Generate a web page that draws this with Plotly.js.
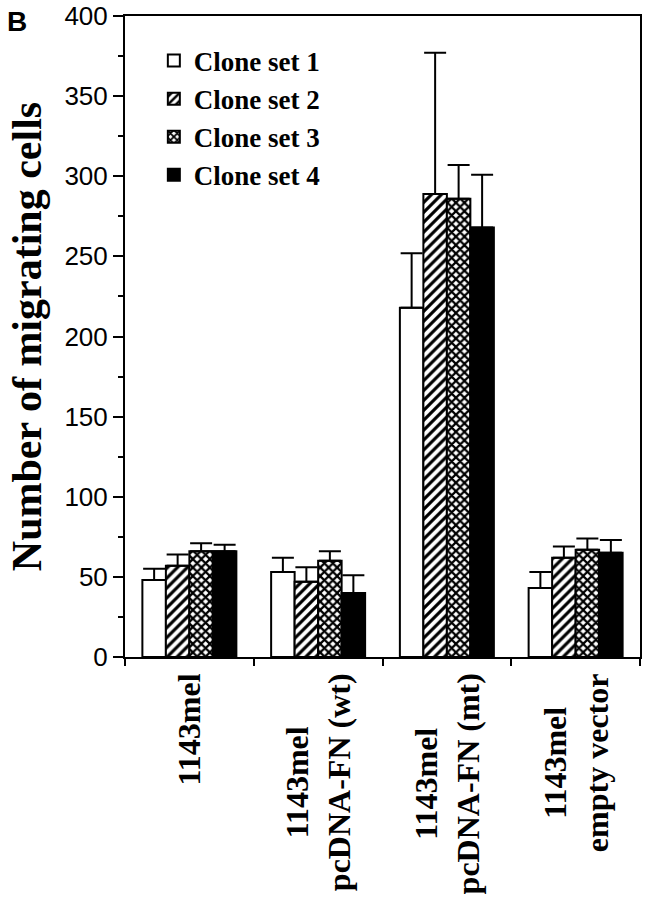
<!DOCTYPE html>
<html>
<head>
<meta charset="utf-8">
<script src="https://cdn.plot.ly/plotly-3.0.1.min.js"></script>
<style>
html,body{margin:0;padding:0;background:#fff;}
#chart{width:648px;height:899px;}
</style>
</head>
<body>
<div id="chart"></div>
<script>
const categories = ['1143mel', '1143mel pcDNA-FN (wt)', '1143mel pcDNA-FN (mt)', '1143mel empty vector'];
const tickLabels = ['1143mel', '1143mel<br>pcDNA-FN (wt)', '1143mel<br>pcDNA-FN (mt)', '1143mel<br>empty vector'];
const seriesNames = ['Clone set 1', 'Clone set 2', 'Clone set 3', 'Clone set 4'];
const set1 = [48, 53, 218, 43];
const set2 = [57, 47, 289, 62];
const set3 = [66, 60, 286, 67];
const set4 = [66, 40, 268, 65];
const err1 = [7, 9, 34, 10];
const err2 = [7, 9, 88, 7];
const err3 = [5, 6, 21, 7];
const err4 = [4, 11, 33, 8];
const yTicks = [0, 50, 100, 150, 200, 250, 300, 350, 400];

const serif = 'Liberation Serif, Times New Roman, serif';
const sans = 'Liberation Sans, Arial, sans-serif';

const values = [set1, set2, set3, set4];
const errors = [err1, err2, err3, err4];
const patterns = [
  {shape: ''},
  {shape: '/', fgcolor: '#000', bgcolor: '#fff', size: 7, solidity: 0.45},
  {shape: 'x', fgcolor: '#000', bgcolor: '#fff', size: 6, solidity: 0.6},
  {shape: ''}
];
const fills = ['#fff', '#fff', '#fff', '#000'];

const traces = values.map((v, i) => ({
  type: 'bar',
  name: seriesNames[i],
  x: categories,
  y: v,
  marker: {
    color: fills[i],
    line: {color: '#000', width: 2},
    pattern: patterns[i]
  },
  error_y: {
    type: 'data',
    symmetric: false,
    array: errors[i],
    arrayminus: errors[i].map(() => 0),
    color: '#000',
    thickness: 2,
    width: 11
  }
}));

const annotations = categories.map((c, i) => ({
  x: c, xref: 'x',
  y: 0, yref: 'paper',
  yanchor: 'top', xanchor: 'center',
  yshift: -14,
  text: tickLabels[i],
  textangle: -90,
  align: 'center',
  showarrow: false,
  font: {family: serif, size: 32, color: '#000', weight: 700}
}));
annotations.push({
  x: -0.233, xref: 'paper', y: 1.018, yref: 'paper',
  xanchor: 'left', yanchor: 'top',
  text: 'B', showarrow: false,
  font: {family: sans, size: 28, color: '#000', weight: 700}
});

const layout = {
  width: 648, height: 899,
  margin: {l: 125, r: 8, t: 16, b: 242},
  paper_bgcolor: '#fff', plot_bgcolor: '#fff',
  barmode: 'group', bargap: 0.27, bargroupgap: 0,
  showlegend: true,
  legend: {
    x: 0.056, y: 0.968, xanchor: 'left', yanchor: 'top',
    bgcolor: 'rgba(0,0,0,0)',
    font: {family: serif, size: 27, color: '#000', weight: 700},
    tracegroupgap: 0
  },
  xaxis: {
    type: 'category',
    showticklabels: false,
    ticks: 'outside', tickson: 'boundaries', ticklen: 7, tickwidth: 2, tickcolor: '#000',
    showline: true, linecolor: '#000', linewidth: 2, mirror: true,
    showgrid: false, zeroline: false
  },
  yaxis: {
    range: [0, 400],
    tickvals: yTicks,
    ticktext: yTicks.map(String),
    ticklabeloverflow: 'allow',
    ticks: 'outside', ticklen: 10, tickwidth: 2, tickcolor: '#000',
    minor: {dtick: 25, ticks: 'outside', ticklen: 5, tickwidth: 2, tickcolor: '#000', showgrid: false},
    tickfont: {family: sans, size: 26, color: '#000'},
    showline: true, linecolor: '#000', linewidth: 2, mirror: true,
    showgrid: false, zeroline: false,
    title: {text: 'Number of migrating cells', standoff: 10,
            font: {family: serif, size: 42, color: '#000', weight: 700}}
  },
  annotations: annotations
};

Plotly.newPlot('chart', traces, layout, {displayModeBar: false, staticPlot: true});
</script>
</body>
</html>
